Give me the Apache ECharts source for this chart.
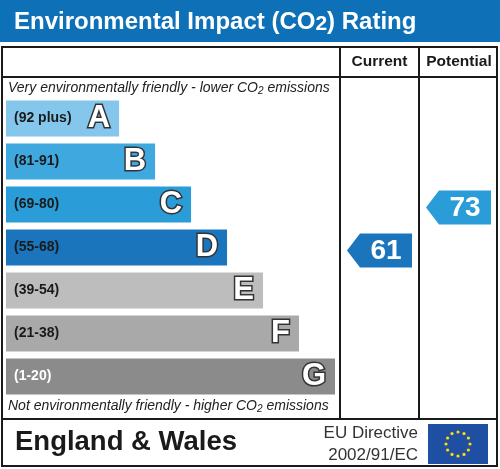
<!DOCTYPE html>
<html>
<head>
<meta charset="utf-8">
<script src="https://cdn.jsdelivr.net/npm/echarts@6/dist/echarts.min.js"></script>
<style>
  html, body { margin: 0; padding: 0; background: #fff; }
  #chart { width: 500px; height: 469px; }
</style>
</head>
<body>
<div id="chart"></div>
<script>
// rating bands, top (best) to bottom (worst)
const bands = ['A', 'B', 'C', 'D', 'E', 'F', 'G'];
const ranges = ['(92 plus)', '(81-91)', '(69-80)', '(55-68)', '(39-54)', '(21-38)', '(1-20)'];
// relative bar lengths
const barLength = [22, 29, 36, 43, 50, 57, 64];
const bandColors = ['#84c6ec', '#3ea8df', '#2a9dd9', '#1b75bc', '#bdbdbd', '#a9a9a9', '#8b8b8b'];

// current / potential ratings
const columns = ['Current', 'Potential'];
const ratings = [61, 73];
const ratingBands = ['D', 'C'];

const FONT = '"Liberation Sans", Arial, sans-serif';

const chart = echarts.init(document.getElementById('chart'), null, { renderer: 'canvas' });

const barData = barLength.map((v, i) => ({
  value: v,
  itemStyle: { color: bandColors[i] },
  label: { color: i === 6 ? '#ffffff' : '#1a1a1a' }
}));

const arrowData = ratings.map((r, i) => {
  const b = bands.indexOf(ratingBands[i]);
  return { value: [i, b, r], itemStyle: { color: bandColors[b] } };
});

// EU flag stars
const stars = [];
for (let k = 0; k < 12; k++) {
  const a = k / 12 * Math.PI * 2;
  stars.push({
    type: 'circle',
    shape: { cx: 458 + Math.cos(a) * 12, cy: 444 + Math.sin(a) * 12, r: 1.6 },
    style: { fill: '#ffdd00' }
  });
}

const noteRich = {
  a: { fontSize: 14, fontStyle: 'italic', fontFamily: FONT, fill: '#222', lineHeight: 16, verticalAlign: 'middle' },
  s: { fontSize: 10, fontStyle: 'italic', fontFamily: FONT, fill: '#222', lineHeight: 10, verticalAlign: 'bottom' }
};

const option = {
  animation: false,
  grid: [
    { left: 6, top: 97, width: 329, height: 301 },
    { left: 340, top: 97, width: 158, height: 301 }
  ],
  xAxis: [
    { type: 'value', gridIndex: 0, min: 0, max: 64, show: false },
    { type: 'category', gridIndex: 1, data: columns, show: false }
  ],
  yAxis: [
    { type: 'category', gridIndex: 0, data: bands, inverse: true, show: false },
    { type: 'category', gridIndex: 1, data: bands, inverse: true, show: false }
  ],
  graphic: [
    // header band
    { type: 'rect', shape: { x: 0, y: 0, width: 500, height: 42 }, style: { fill: '#0e71b8' } },
    {
      type: 'text', left: 14, top: 10,
      style: {
        text: '{a|Environmental Impact (CO}{s|2}{a|) Rating}',
        rich: {
          a: { fontSize: 24, fontWeight: 'bold', fontFamily: FONT, fill: '#fff', lineHeight: 26, verticalAlign: 'middle' },
          s: { fontSize: 21, fontWeight: 'bold', fontFamily: FONT, fill: '#fff', lineHeight: 18, verticalAlign: 'bottom' }
        }
      }
    },
    // table frame
    { type: 'rect', shape: { x: 2, y: 47, width: 495, height: 419 }, style: { fill: 'none', stroke: '#1a1a1a', lineWidth: 2 } },
    { type: 'line', shape: { x1: 2, y1: 77, x2: 497, y2: 77 }, style: { stroke: '#1a1a1a', lineWidth: 2 } },
    { type: 'line', shape: { x1: 2, y1: 419, x2: 497, y2: 419 }, style: { stroke: '#1a1a1a', lineWidth: 2 } },
    { type: 'line', shape: { x1: 340, y1: 47, x2: 340, y2: 419 }, style: { stroke: '#1a1a1a', lineWidth: 2 } },
    { type: 'line', shape: { x1: 419, y1: 47, x2: 419, y2: 419 }, style: { stroke: '#1a1a1a', lineWidth: 2 } },
    { type: 'text', x: 379.5, y: 62, style: { text: columns[0], align: 'center', verticalAlign: 'middle', font: 'bold 15.5px ' + FONT, fill: '#1a1a1a' } },
    { type: 'text', x: 459, y: 62, style: { text: columns[1], align: 'center', verticalAlign: 'middle', font: 'bold 15.5px ' + FONT, fill: '#1a1a1a' } },
    // top / bottom notes
    { type: 'text', left: 8, top: 81, style: { text: '{a|Very environmentally friendly - lower CO}{s|2}{a| emissions}', rich: noteRich } },
    { type: 'text', left: 8, top: 399, style: { text: '{a|Not environmentally friendly - higher CO}{s|2}{a| emissions}', rich: noteRich } },
    // footer
    { type: 'text', x: 15, y: 442, style: { text: 'England & Wales', verticalAlign: 'middle', font: 'bold 27.5px ' + FONT, fill: '#1a1a1a' } },
    { type: 'text', x: 418, y: 433, style: { text: 'EU Directive', align: 'right', verticalAlign: 'middle', font: '17px ' + FONT, fill: '#333' } },
    { type: 'text', x: 418, y: 455, style: { text: '2002/91/EC', align: 'right', verticalAlign: 'middle', font: '17px ' + FONT, fill: '#333' } },
    { type: 'rect', shape: { x: 428, y: 424, width: 60, height: 40 }, style: { fill: '#1f4fa3' } },
    { type: 'group', children: stars }
  ],
  series: [
    {
      type: 'bar',
      xAxisIndex: 0, yAxisIndex: 0,
      barWidth: 36,
      data: barData,
      label: {
        show: true,
        position: 'insideLeft',
        distance: 8,
        formatter: p => ranges[p.dataIndex],
        fontFamily: FONT, fontWeight: 'bold', fontSize: 14
      }
    },
    {
      type: 'bar',
      xAxisIndex: 0, yAxisIndex: 0,
      barWidth: 36,
      barGap: '-100%',
      data: barLength,
      itemStyle: { color: 'transparent' },
      label: {
        show: true,
        position: 'insideRight',
        distance: 9,
        formatter: p => bands[p.dataIndex],
        fontFamily: FONT, fontWeight: 'bold', fontSize: 31,
        color: '#fff', textBorderColor: '#333', textBorderWidth: 3
      }
    },
    {
      type: 'custom',
      xAxisIndex: 1, yAxisIndex: 1,
      data: arrowData,
      renderItem: (params, api) => {
        const c = api.coord([api.value(0), api.value(1)]);
        const w = 65, h = 34, tip = 13;
        const x0 = c[0] - w / 2, y0 = c[1] - h / 2 + 3;
        const fill = api.visual('color');
        return {
          type: 'group',
          children: [
            {
              type: 'polygon',
              shape: { points: [[x0, y0 + h / 2], [x0 + tip, y0], [x0 + w, y0], [x0 + w, y0 + h], [x0 + tip, y0 + h]] },
              style: { fill: fill }
            },
            {
              type: 'text',
              style: {
                text: String(api.value(2)),
                x: x0 + tip + (w - tip) / 2, y: y0 + h / 2 + 1,
                align: 'center', verticalAlign: 'middle',
                font: 'bold 28px ' + FONT, fill: '#fff'
              }
            }
          ]
        };
      }
    }
  ]
};

chart.setOption(option);
</script>
</body>
</html>
